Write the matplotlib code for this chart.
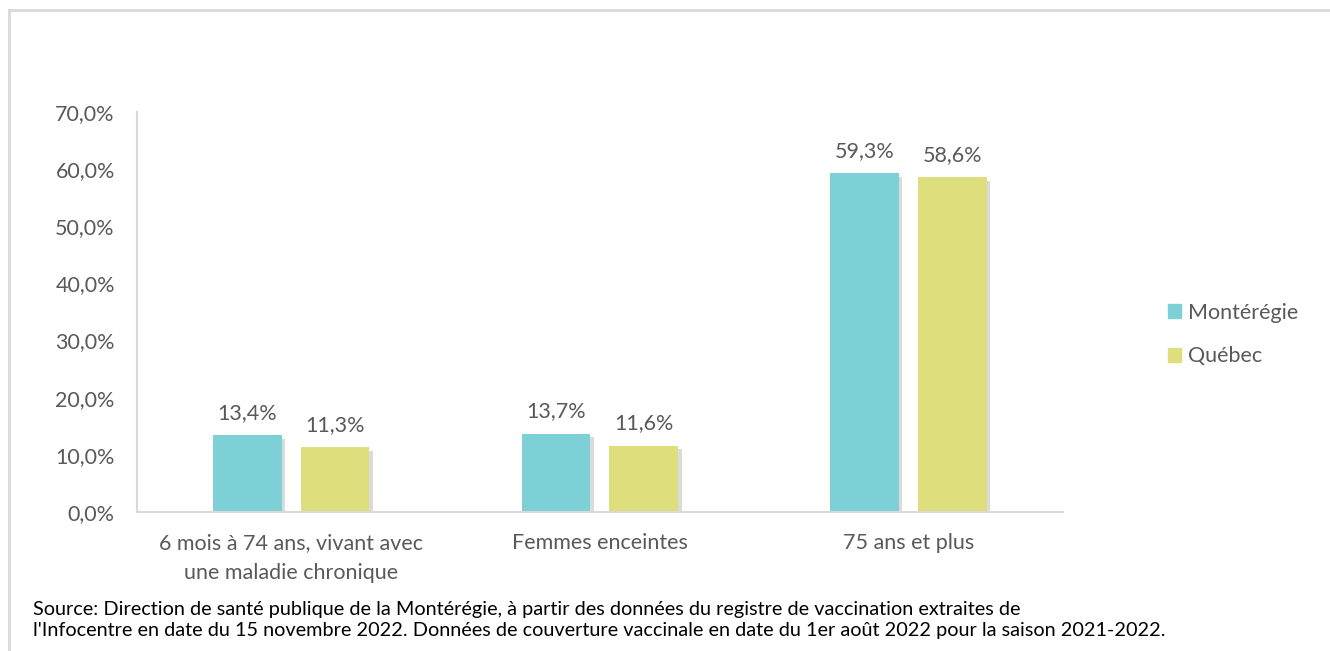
import numpy as np
import matplotlib.pyplot as plt
import matplotlib.patheffects as pe
from matplotlib.lines import Line2D
from matplotlib.patches import Patch

# Data
categories = ["6 mois à 74 ans, vivant avec\nune maladie chronique", "Femmes enceintes", "75 ans et plus"]
monteregie = [13.4, 13.7, 59.3]
quebec = [11.3, 11.6, 58.6]
series_names = ["Montérégie", "Québec"]
yticks = [0, 10, 20, 30, 40, 50, 60, 70]
source = ("Source: Direction de santé publique de la Montérégie, à partir des données du registre de vaccination extraites de\n"
          "l'Infocentre en date du 15 novembre 2022. Données de couverture vaccinale en date du 1er août 2022 pour la saison 2021-2022.")

plt.rcParams['font.family'] = ['Lato', 'DejaVu Sans']
txt = "#595959"
fs = 15.5
colors = ["#7DD0D6", "#DEDE7C"]

fig = plt.figure(figsize=(13.3, 6.51), dpi=100)
ax = fig.add_axes([0.103, 0.2135, 0.696, 0.6145])

# light frame (top and left edges only show in the crop)
fx, fy = 9 / 1330, 1 - 10 / 651
fig.lines.append(Line2D([fx, fx], [0, fy], transform=fig.transFigure, color="#D9D9D9", lw=2))
fig.lines.append(Line2D([fx, 1], [fy, fy], transform=fig.transFigure, color="#D9D9D9", lw=2))

x = np.arange(len(categories))
w = 0.223
off = 0.142
shadow = [pe.SimplePatchShadow(offset=(2.5, -2.5), shadow_rgbFace="#888888", alpha=0.3), pe.Normal()]

b1 = ax.bar(x - off, monteregie, w, color=colors[0], path_effects=shadow)
b2 = ax.bar(x + off, quebec, w, color=colors[1], path_effects=shadow)

for bars, vals in ((b1, monteregie), (b2, quebec)):
    for b, v in zip(bars, vals):
        ax.annotate(f"{v:.1f}%".replace(".", ","), (b.get_x() + b.get_width() / 2, v),
                    xytext=(0, 9), textcoords="offset points", ha="center", va="bottom",
                    fontsize=fs, color=txt)

ax.set_xlim(-0.5, 2.5)
ax.set_ylim(0, 70)
ax.set_yticks(yticks)
ax.set_yticklabels([f"{t:.1f}%".replace(".", ",") for t in yticks], fontsize=fs, color=txt)
ax.set_xticks(x)
ax.set_xticklabels(categories, fontsize=fs, color=txt, linespacing=1.65)
ax.tick_params(axis="y", length=0, pad=16)
ax.tick_params(axis="x", length=0, pad=15)

for s in ("top", "right"):
    ax.spines[s].set_visible(False)
for s in ("left", "bottom"):
    ax.spines[s].set_color("#D9D9D9")
    ax.spines[s].set_linewidth(1.5)

handles = [Patch(color=c, label=n) for c, n in zip(colors, series_names)]
ax.legend(handles=handles, loc="center left", bbox_to_anchor=(1.093, 0.4435), frameon=False, fontsize=fs,
          labelcolor=txt, handlelength=0.6, handleheight=0.6, handletextpad=0.3, labelspacing=1.1)

fig.text(33 / 1330, 1 - 620 / 651, source, fontsize=14.3, color="black", va="center", linespacing=1.35)

fig.savefig("out.png", dpi=100)
